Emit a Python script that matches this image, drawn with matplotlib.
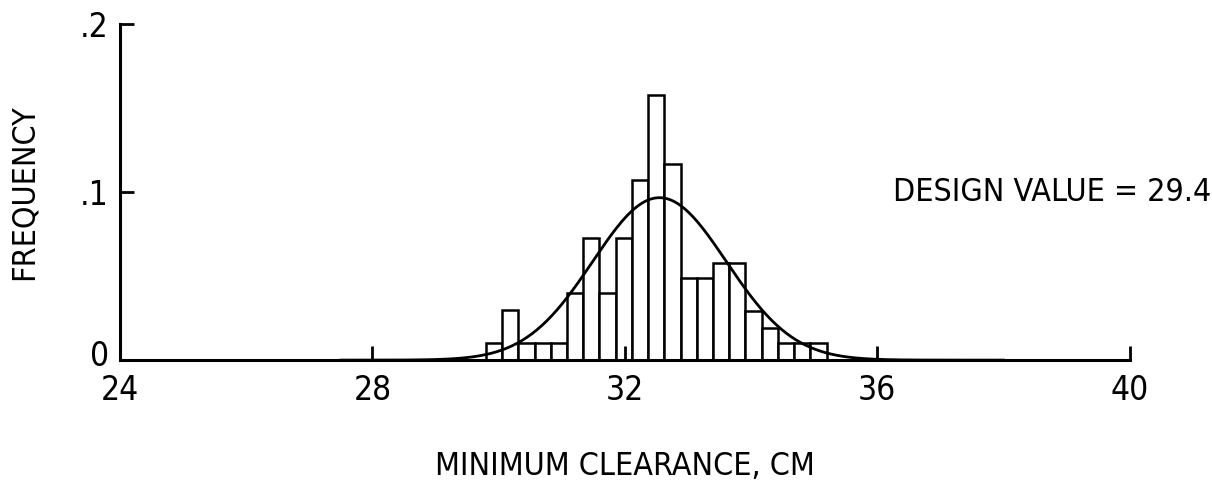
import numpy as np
import matplotlib.pyplot as plt
import matplotlib.transforms as mtransforms

# histogram of minimum clearance, bins of ~0.257 cm starting at 29.8 cm
bin_start = 29.8
bin_width = 0.257
freq = [0.010, 0.030, 0.010, 0.010, 0.010, 0.040, 0.073, 0.040, 0.073, 0.107,
        0.158, 0.117, 0.049, 0.049, 0.058, 0.058, 0.029, 0.019, 0.010, 0.010,
        0.010]

# fitted normal curve
fit_mean = 32.55
fit_sd = 1.06

xticks = [24, 28, 32, 36, 40]
yticks = [0, 0.1, 0.2]
ytick_labels = ["0", ".1", ".2"]

plt.rcParams['font.family'] = ['DejaVu Sans']
plt.rcParams['font.stretch'] = 'condensed'

fig = plt.figure(figsize=(12.12, 4.94), dpi=100)
ax = fig.add_axes([0.099, 0.271, 0.833, 0.680])

lefts = bin_start + bin_width * np.arange(len(freq))
ax.bar(lefts, freq, width=bin_width, align='edge', facecolor='white',
       edgecolor='black', linewidth=1.8)

xs = np.linspace(27.5, 38, 400)
curve = bin_width / (fit_sd * np.sqrt(2 * np.pi)) * np.exp(-0.5 * ((xs - fit_mean) / fit_sd) ** 2)
ax.plot(xs, curve, color='black', linewidth=2)

ax.set_xlim(24, 40)
ax.set_ylim(0, 0.2)
ax.set_xticks(xticks)
ax.set_xticklabels([str(t) for t in xticks])
ax.set_yticks(yticks)
ax.set_yticklabels(ytick_labels)

for side in ['top', 'right']:
    ax.spines[side].set_visible(False)
for side in ['left', 'bottom']:
    ax.spines[side].set_linewidth(2.2)

ax.tick_params(axis='both', direction='in', length=10, width=2, labelsize=24)
ax.tick_params(axis='x', pad=10)
ax.tick_params(axis='y', pad=8)

# lift the "0" a little so it clears the "24" below it
zero_lbl = ax.get_yticklabels()[0]
zero_lbl.set_transform(zero_lbl.get_transform() +
                       mtransforms.ScaledTranslation(0, 5 / 72, fig.dpi_scale_trans))

ax.set_xlabel("MINIMUM CLEARANCE, CM", fontsize=23, labelpad=32)
ax.set_ylabel("FREQUENCY", fontsize=23, labelpad=29)

ax.text(36.25, 0.1, "DESIGN VALUE = 29.4", fontsize=23, ha='left', va='center')

fig.savefig("out.png", dpi=100)
